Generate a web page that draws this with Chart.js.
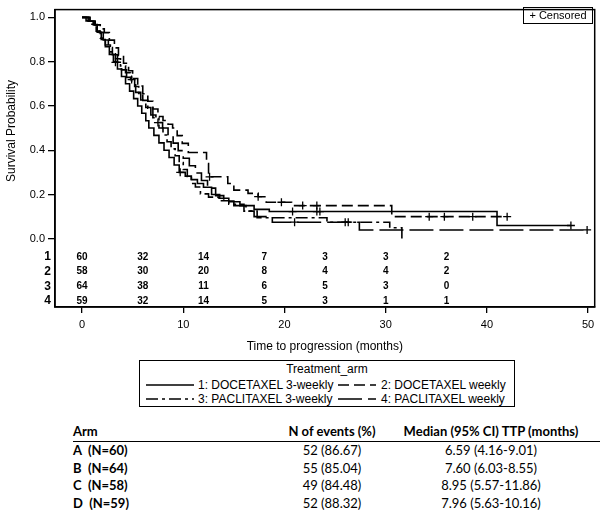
<!DOCTYPE html>
<html>
<head>
<meta charset="utf-8">
<script src="https://cdn.jsdelivr.net/npm/chart.js@4.4.1/dist/chart.umd.min.js"></script>
<style>
body { margin:0; background:#fff; width:600px; height:510px; position:relative; overflow:hidden; font-family:"Liberation Sans", Arial, sans-serif; color:#000; }
#wrap { position:absolute; left:0; top:0; width:600px; height:360px; }
.censor-key { position:absolute; left:523px; top:7px; width:68px; height:15px; border:1.5px solid #000; font-size:11px; line-height:15px; text-align:center; }
#legend { position:absolute; left:139px; top:360px; width:374px; height:45px; border:1.5px solid #000; font-size:12px; }
#legend .ttl { position:absolute; left:0; width:100%; top:1px; text-align:center; line-height:14px; }
#legend .lab { position:absolute; line-height:14px; white-space:nowrap; }
#legend svg { position:absolute; left:0; top:0; }
.tbl { position:absolute; font-family:Lato, "Open Sans", sans-serif; font-size:13px; white-space:pre; line-height:15px; }
.b { font-weight:bold; }
.c { text-align:center; }
#rule { position:absolute; left:73px; top:441px; width:527px; height:0; border-top:1.2px solid #000; }
</style>
</head>
<body>
<div id="wrap"><canvas id="km" width="600" height="360"></canvas></div>
<div class="censor-key">+ Censored</div>
<div id="legend">
  <div class="ttl">Treatment_arm</div>
  <svg width="374" height="45" id="legendSvg"></svg>
  <div class="lab" style="left:58px;top:17px">1: DOCETAXEL 3-weekly</div>
  <div class="lab" style="left:241px;top:17px">2: DOCETAXEL weekly</div>
  <div class="lab" style="left:58px;top:31px">3: PACLITAXEL 3-weekly</div>
  <div class="lab" style="left:241px;top:31px">4: PACLITAXEL weekly</div>
</div>
<div id="table"></div>
<div id="rule"></div>
<script>
// Kaplan-Meier steps (time in months, survival probability)
const arm1Time = [0, 0.6, 1.1, 1.5, 1.9, 2.3, 2.7, 3.1, 3.5, 3.9, 4.3, 4.7, 5.1, 5.5, 5.9, 6.3, 6.6, 7.1, 7.6, 8.1, 8.6, 9.1, 9.6, 10.2, 10.8, 11.4, 12.0, 12.8, 13.6, 14.5, 15.6, 17.0, 18.5, 41.0, 48.3];
const arm1Surv = [1, .983, .967, .933, .90, .867, .833, .80, .767, .733, .70, .667, .633, .60, .567, .533, .50, .467, .433, .40, .367, .333, .30, .283, .267, .25, .233, .20, .183, .167, .15, .133, .123, .06, .06];
const arm1CensTime = [9.7, 20.8, 23.2, 23.5, 48.3];
const arm1CensSurv = [.30, .123, .123, .123, .06];

const arm2Time = [0, 0.8, 1.3, 1.8, 2.2, 2.7, 3.2, 3.6, 4.1, 4.6, 5.0, 5.5, 6.0, 6.5, 7.0, 7.5, 8.0, 8.5, 8.95, 9.4, 9.9, 10.5, 12.3, 12.5, 14.4, 15.0, 16.4, 17.4, 18.2, 20.7, 30.6, 42.0];
const arm2Surv = [1, .983, .966, .948, .931, .897, .862, .828, .793, .759, .724, .69, .655, .621, .586, .552, .534, .517, .50, .466, .431, .39, .34, .28, .25, .22, .205, .19, .165, .15, .10, .10];
const arm2CensTime = [12.6, 17.4, 19.7, 21.8, 23.2, 34.3, 35.8, 38.6, 42.0];
const arm2CensSurv = [.28, .19, .165, .15, .15, .10, .10, .10, .10];

const arm3Time = [0, 0.4, 0.9, 1.4, 1.8, 2.3, 2.8, 3.3, 3.8, 4.3, 4.8, 5.2, 5.6, 6.0, 6.5, 7.0, 7.6, 8.0, 8.4, 8.8, 9.2, 9.6, 10.0, 10.4, 10.8, 11.2, 11.7, 12.5, 13.5, 14.5, 16.0, 17.3, 24.2, 30.4, 31.6];
const arm3Surv = [1, .984, .969, .938, .906, .875, .844, .813, .781, .75, .719, .688, .656, .625, .59, .547, .50, .469, .438, .406, .375, .344, .313, .281, .25, .234, .203, .188, .172, .156, .125, .095, .075, .05, 0];
const arm3CensTime = [4.9, 26.0, 26.3];
const arm3CensSurv = [.719, .075, .075];

const arm4Time = [0, 0.7, 1.2, 1.7, 2.1, 2.6, 3.0, 3.5, 3.9, 4.4, 4.9, 5.3, 5.8, 6.3, 6.8, 7.3, 7.96, 8.5, 9.0, 9.5, 10.0, 10.6, 11.2, 11.8, 12.4, 13.2, 14.0, 15.0, 16.2, 17.0, 18.8, 27.4, 49.9];
const arm4Surv = [1, .983, .966, .932, .898, .864, .831, .797, .763, .729, .695, .661, .627, .593, .559, .525, .50, .466, .432, .398, .364, .33, .297, .263, .229, .195, .17, .15, .125, .10, .075, .04, .04];
const arm4CensTime = [3.3, 7.5, 21.0, 49.9];
const arm4CensSurv = [.797, .525, .075, .04];

const armNames = ['1: DOCETAXEL 3-weekly', '2: DOCETAXEL weekly', '3: PACLITAXEL 3-weekly', '4: PACLITAXEL weekly'];
const armDash = [[], [11, 5], [12, 4, 3, 4], [24, 6]];

// number at risk table
const riskTimes = [0, 6, 12, 18, 24, 30, 36];
const riskArm1 = [60, 32, 14, 7, 3, 3, 2];
const riskArm2 = [58, 30, 20, 8, 4, 4, 2];
const riskArm3 = [64, 38, 11, 6, 5, 3, 0];
const riskArm4 = [59, 32, 14, 5, 3, 1, 1];

const xTicks = [0, 10, 20, 30, 40, 50];
const yTicks = [0, 0.2, 0.4, 0.6, 0.8, 1.0];

// summary table
const tblHeader = ['Arm', 'N of events (%)', 'Median (95% CI) TTP (months)'];
const tblArm = ['A  (N=60)', 'B  (N=64)', 'C  (N=58)', 'D  (N=59)'];
const tblEvents = ['52 (86.67)', '55 (85.04)', '49 (84.48)', '52 (88.32)'];
const tblMedian = ['6.59 (4.16-9.01)', '7.60 (6.03-8.55)', '8.95 (5.57-11.86)', '7.96 (5.63-10.16)'];

function pts(t, s) { return t.map((v, i) => ({ x: v, y: s[i] })); }

const curves = [[arm1Time, arm1Surv], [arm2Time, arm2Surv], [arm3Time, arm3Surv], [arm4Time, arm4Surv]];
const cens = [[arm1CensTime, arm1CensSurv], [arm2CensTime, arm2CensSurv], [arm3CensTime, arm3CensSurv], [arm4CensTime, arm4CensSurv]];
const risks = [riskArm1, riskArm2, riskArm3, riskArm4];

const datasets = [];
curves.forEach((c, i) => {
    datasets.push({
        type: 'line', label: armNames[i], data: pts(c[0], c[1]),
        stepped: true, borderColor: '#000', borderWidth: 1.6, borderDash: armDash[i],
        pointRadius: 0, fill: false
    });
});
cens.forEach((c, i) => {
    datasets.push({
        type: 'scatter', label: 'Censored ' + (i + 1), data: pts(c[0], c[1]),
        pointStyle: 'cross', pointRadius: 4, borderColor: '#000', borderWidth: 1.3, showLine: false
    });
});

const kmExtras = {
    id: 'kmExtras',
    afterDraw(chart) {
        const ctx = chart.ctx, a = chart.chartArea;
        const xs = chart.scales.x, ys = chart.scales.y;
        ctx.save();
        // box round the plot
        ctx.strokeStyle = '#000';
        ctx.lineWidth = 1.5;
        ctx.strokeRect(a.left, a.top, a.right - a.left, a.bottom - a.top);
        // numbers at risk
        const y0 = ys.getPixelForValue(0);
        ctx.fillStyle = '#000';
        ctx.textBaseline = 'middle';
        risks.forEach((row, r) => {
            const y = y0 + 18 + r * 14.7;
            ctx.font = 'bold 12px "Liberation Sans", Arial';
            ctx.textAlign = 'right';
            ctx.fillText(String(r + 1), a.left - 4, y);
            ctx.font = 'bold 10px "Liberation Sans", Arial';
            ctx.textAlign = 'center';
            row.forEach((n, k) => ctx.fillText(String(n), xs.getPixelForValue(riskTimes[k]), y));
        });
        // y axis title
        ctx.translate(12, 131);
        ctx.rotate(-Math.PI / 2);
        ctx.font = '12px "Liberation Sans", Arial';
        ctx.textAlign = 'center';
        ctx.fillText('Survival Probability', 0, 0);
        ctx.restore();
    }
};

new Chart(document.getElementById('km'), {
    data: { datasets: datasets },
    options: {
        responsive: false,
        animation: false,
        devicePixelRatio: 1,
        layout: { padding: { top: 2, right: 5, left: 0, bottom: 0 } },
        plugins: { legend: { display: false }, tooltip: { enabled: false } },
        scales: {
            x: {
                type: 'linear', min: -2.67, max: 50.65,
                afterBuildTicks: s => { s.ticks = xTicks.map(v => ({ value: v })); },
                afterFit: s => { s.height = 53; },
                ticks: { color: '#000', font: { size: 11 }, padding: 5 },
                grid: { drawOnChartArea: false, tickLength: 6, color: '#000', tickColor: '#000', lineWidth: 1.3 },
                border: { color: '#000', width: 1.5 },
                title: { display: true, text: 'Time to progression (months)', color: '#000', font: { size: 12 }, padding: { top: 0, bottom: 6 } }
            },
            y: {
                type: 'linear', min: -0.308, max: 1.035,
                afterBuildTicks: s => { s.ticks = yTicks.map(v => ({ value: v })); },
                afterFit: s => { s.width = 55; },
                ticks: { color: '#000', font: { size: 11 }, padding: 3, callback: v => v.toFixed(1) },
                grid: { drawOnChartArea: false, tickLength: 7, color: '#000', tickColor: '#000', lineWidth: 1.3 },
                border: { color: '#000', width: 1.5 }
            }
        }
    },
    plugins: [kmExtras]
});

// legend line samples
const svg = document.getElementById('legendSvg');
const samplePos = [[6, 54, 24], [198, 236, 24], [6, 54, 38], [198, 236, 38]];
samplePos.forEach((p, i) => {
    const ln = document.createElementNS('http://www.w3.org/2000/svg', 'line');
    ln.setAttribute('x1', p[0]); ln.setAttribute('x2', p[1]);
    ln.setAttribute('y1', p[2]); ln.setAttribute('y2', p[2]);
    ln.setAttribute('stroke', '#000'); ln.setAttribute('stroke-width', '1.5');
    if (armDash[i].length) ln.setAttribute('stroke-dasharray', armDash[i].join(' '));
    svg.appendChild(ln);
});

// summary table below the chart
const table = document.getElementById('table');
function cell(text, left, top, width, cls) {
    const d = document.createElement('div');
    d.className = 'tbl ' + cls;
    d.textContent = text;
    d.style.left = left + 'px';
    d.style.top = top + 'px';
    if (width) d.style.width = width + 'px';
    table.appendChild(d);
}
cell(tblHeader[0], 73, 424, 0, 'b');
cell(tblHeader[1], 272, 424, 120, 'b c');
cell(tblHeader[2], 391, 424, 200, 'b c');
tblArm.forEach((a, i) => {
    const top = 443 + i * 17.5;
    cell(a, 73, top, 0, 'b');
    cell(tblEvents[i], 272, top, 120, 'c');
    cell(tblMedian[i], 391, top, 200, 'c');
});
</script>
</body>
</html>
